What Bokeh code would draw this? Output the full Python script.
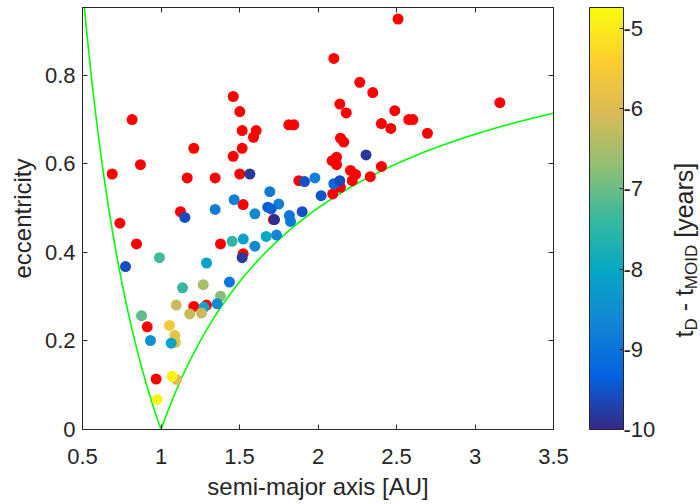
import numpy as np
from bokeh.plotting import figure
from bokeh.layouts import row
from bokeh.core.properties import value
from bokeh.models import (ColumnDataSource, LinearColorMapper, ColorBar, FixedTicker,
                          LinearAxis, Range1d, CustomJSTickFormatter)
from bokeh.embed import file_html
from bokeh.resources import INLINE

# ---------------- data ----------------
x_ticks = [0.5, 1, 1.5, 2, 2.5, 3, 3.5]
y_ticks = [0, 0.2, 0.4, 0.6, 0.8]
cb_ticks = [-10, -9, -8, -7, -6, -5]

# objects outside the colour range (drawn red)
red_a = [2.101, 2.266, 1.460, 1.502, 0.816, 2.139, 2.180, 1.517, 1.606, 1.589,
         1.814, 1.846, 2.143, 2.164, 1.209, 1.517, 1.460, 0.869, 0.689, 2.090,
         2.118, 2.118, 1.167, 1.345, 1.502, 1.878, 2.207, 2.239, 2.218, 2.143,
         2.094, 1.523, 1.124, 0.738, 2.510, 2.349, 2.489, 3.158, 2.578, 2.604,
         2.404, 2.464, 2.697, 2.404, 2.333, 1.716, 0.844, 1.379, 1.523, 1.209,
         1.290, 0.912, 0.969]
red_e = [0.838, 0.784, 0.752, 0.718, 0.700, 0.735, 0.715, 0.675, 0.675, 0.660,
         0.688, 0.688, 0.658, 0.649, 0.635, 0.635, 0.617, 0.598, 0.577, 0.607,
         0.615, 0.598, 0.568, 0.568, 0.577, 0.562, 0.585, 0.576, 0.562, 0.547,
         0.532, 0.508, 0.492, 0.466, 0.927, 0.761, 0.720, 0.738, 0.700, 0.700,
         0.691, 0.680, 0.669, 0.594, 0.571, 0.474, 0.419, 0.419, 0.397, 0.278,
         0.281, 0.232, 0.114]

# objects coloured by t_D - t_MOID [years]
col_a = [1.566, 1.914, 1.980, 2.101, 2.139, 2.020, 1.693, 1.466, 1.750, 1.680,
         1.702, 1.345, 1.152, 1.598, 1.818, 1.825, 1.899, 1.723, 2.306, 0.774,
         0.990, 1.453, 1.524, 1.517, 1.598, 1.670, 1.736, 1.290, 1.436, 1.137,
         1.269, 1.379, 1.358, 1.097, 1.273, 1.183, 1.258, 0.876, 1.054, 1.088,
         1.092, 1.065, 0.933, 1.099, 1.071, 0.976]
col_e = [0.577, 0.560, 0.568, 0.555, 0.562, 0.528, 0.537, 0.519, 0.509, 0.502,
         0.498, 0.497, 0.479, 0.487, 0.483, 0.470, 0.492, 0.474, 0.620, 0.368,
         0.388, 0.425, 0.430, 0.388, 0.414, 0.436, 0.439, 0.376, 0.333, 0.320,
         0.327, 0.301, 0.284, 0.281, 0.276, 0.261, 0.263, 0.257, 0.235, 0.212,
         0.197, 0.195, 0.201, 0.113, 0.120, 0.068]
col_t = [-9.85, -9.55, -8.8, -9.3, -9.6, -9.5, -8.9, -8.8, -8.8, -9.45,
         -9.4, -8.8, -9.6, -8.6, -9.0, -8.9, -9.55, -9.95, -9.85, -9.6,
         -7.3, -7.5, -8.1, -9.8, -8.6, -8.0, -8.7, -8.1, -9.0, -7.4,
         -6.5, -6.8, -8.6, -6.2, -8.1, -6.2, -6.2, -7.1, -5.6, -5.8,
         -5.75, -8.1, -8.4, -6.0, -4.9, -4.85]

c_low, c_high = -10.0, -4.74

# colour-bar label pieces: main text and subscripts
cb_main = ["t", "- t", "[years]"]
cb_sub = ["D", "MOID"]

# ---------------- colormap (parula-like) ----------------
anchors = ["#352A87", "#0363E1", "#1485D4", "#06A7C6", "#38B99E",
           "#92BF73", "#D9BA56", "#FCCE2E", "#F9FB0E"]


def hex2rgb(h):
    return tuple(int(h[i:i + 2], 16) for i in (1, 3, 5))


palette = []
N = 256
for i in range(N):
    f = i / (N - 1) * (len(anchors) - 1)
    k = min(int(f), len(anchors) - 2)
    t = f - k
    c0, c1 = hex2rgb(anchors[k]), hex2rgb(anchors[k + 1])
    palette.append("#%02x%02x%02x" % tuple(int(round(c0[j] + (c1[j] - c0[j]) * t)) for j in range(3)))

mapper = LinearColorMapper(palette=palette, low=c_low, high=c_high)

# ---------------- main figure ----------------
TXT = "#262626"
FONT = "Liberation Sans"
fmt_code = "return tick.toString();"
B_TOP, B_BOT = 7, 75

P1W = 663
p = figure(width=P1W, height=504,
           x_range=Range1d(0.5, 3.5), y_range=Range1d(0, 0.953),
           output_backend="svg", toolbar_location=None,
           min_border_left=82, min_border_top=B_TOP, min_border_bottom=B_BOT,
           min_border_right=110,
           x_axis_label="semi-major axis [AU]", y_axis_label="eccentricity")
p.grid.visible = False
p.outline_line_color = TXT
p.outline_line_width = 1
p.background_fill_color = "white"
p.border_fill_color = "white"


def style_axis(ax, ticks, show_labels=True):
    ax.ticker = FixedTicker(ticks=ticks)
    ax.minor_tick_line_color = None
    ax.major_tick_in = 5
    ax.major_tick_out = 0
    ax.major_tick_line_color = TXT
    ax.axis_line_color = TXT
    ax.major_label_text_color = TXT
    ax.major_label_text_font = FONT
    ax.axis_label_text_color = TXT
    ax.axis_label_text_font = FONT
    ax.axis_label_text_font_style = "normal"
    ax.axis_label_text_font_size = "24px"
    if show_labels:
        ax.formatter = CustomJSTickFormatter(code=fmt_code)
        ax.major_label_text_font_size = "22px"
    else:
        ax.formatter = CustomJSTickFormatter(code="return '';")
        ax.major_label_text_font_size = "0px"
        ax.major_label_standoff = 0


style_axis(p.xaxis[0], x_ticks)
style_axis(p.yaxis[0], y_ticks)
p.xaxis[0].major_label_standoff = 19
p.xaxis[0].axis_label_standoff = 6
p.yaxis[0].major_label_standoff = 7
p.yaxis[0].axis_label_standoff = 6

top_ax = LinearAxis()
style_axis(top_ax, x_ticks, show_labels=False)
p.add_layout(top_ax, "above")
right_ax = LinearAxis()
style_axis(right_ax, y_ticks, show_labels=False)
p.add_layout(right_ax, "right")

# boundary curves q = 1 AU and Q = 1 AU
a_left = np.linspace(0.5, 1.0, 300)
a_right = np.linspace(1.0, 3.5, 600)
p.line(a_left, 1.0 / a_left - 1.0, line_color="#00ff00", line_width=1.6)
p.line(a_right, 1.0 - 1.0 / a_right, line_color="#00ff00", line_width=1.6)

red_src = ColumnDataSource(dict(a=red_a, e=red_e))
col_src = ColumnDataSource(dict(a=col_a, e=col_e, t=col_t))
p.scatter("a", "e", source=red_src, size=11, fill_color="#ff0000", line_color=None)
p.scatter("a", "e", source=col_src, size=11,
          fill_color={"field": "t", "transform": mapper},
          line_color=None)

cb = ColorBar(color_mapper=mapper, ticker=FixedTicker(ticks=cb_ticks),
              formatter=CustomJSTickFormatter(code=fmt_code),
              width=34, height=422, padding=0, margin=0, location=(36, 0),
              label_standoff=0, major_label_text_font_size="22px",
              major_label_text_font=FONT, major_label_text_color=TXT,
              major_tick_line_color=TXT, major_tick_in=4, major_tick_out=0,
              minor_tick_line_color=None,
              bar_line_color=TXT, border_line_color=None,
              background_fill_color=None)
p.add_layout(cb, "right")

# ---------------- label strip for the colour bar title ----------------
# its frame is aligned with the main frame; data units = pixels from page bottom
P2W = 700 - P1W
p2 = figure(width=P2W, height=504, x_range=Range1d(0, P2W),
            y_range=Range1d(B_BOT, 504 - B_TOP),
            x_axis_type=None, y_axis_type=None,
            output_backend="svg", toolbar_location=None,
            min_border_left=0, min_border_right=0,
            min_border_top=B_TOP, min_border_bottom=B_BOT)
p2.grid.visible = False
p2.outline_line_color = None
p2.background_fill_color = "white"
p2.border_fill_color = "white"

xb, xs = 683 - P1W, 691 - P1W
p2.text(x=[xb, xb, xb], y=[167.0, 193.17, 266.71], text=cb_main, angle=np.pi / 2,
        text_align="left", text_baseline="alphabetic", text_font=value(FONT),
        text_font_size="25px", text_color=TXT)
p2.text(x=[xs, xs], y=[173.95, 215.37], text=cb_sub, angle=np.pi / 2,
        text_align="left", text_baseline="alphabetic", text_font=value(FONT),
        text_font_size="17px", text_color=TXT)

layout = row(p, p2)
open("out.html", "w").write(file_html(layout, INLINE))
